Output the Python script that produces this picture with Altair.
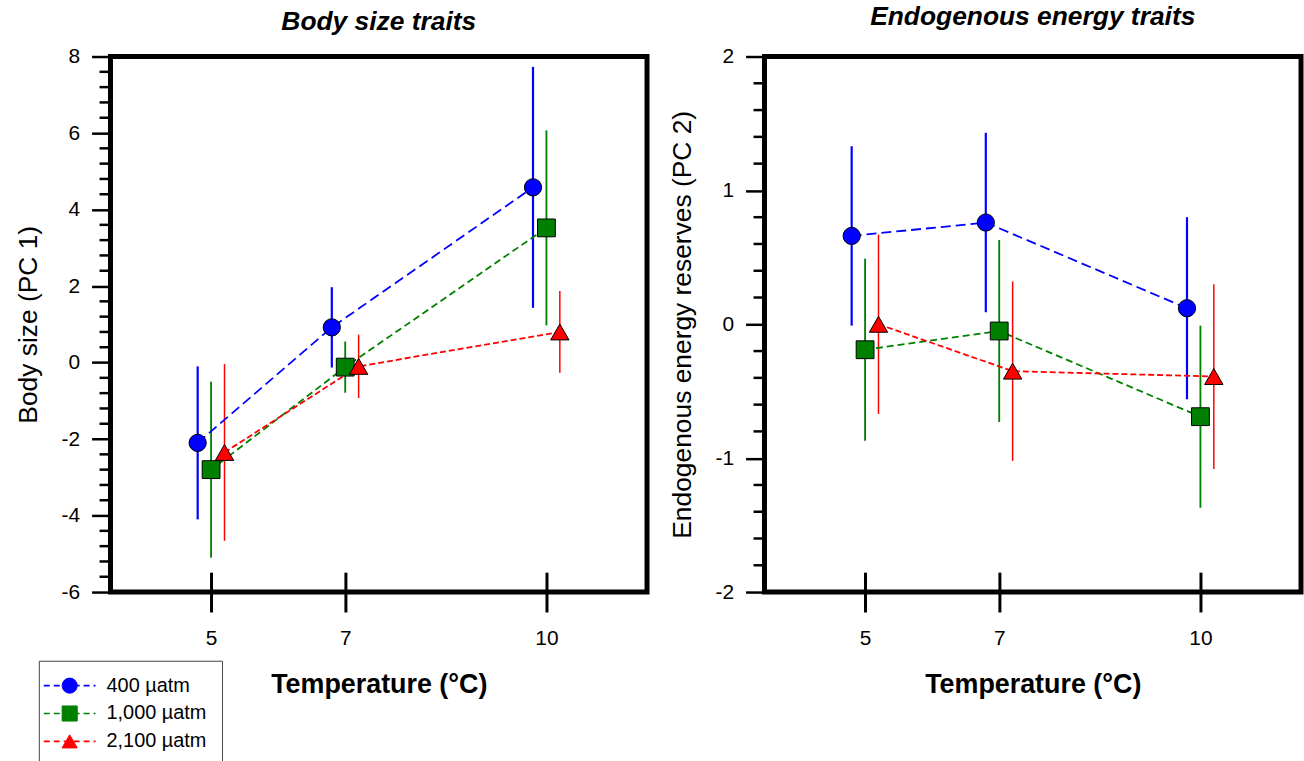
import altair as alt
import pandas as pd

# Treatment levels and plotting styles
temperatures = [5, 7, 10]
series = ["400 µatm", "1,000 µatm", "2,100 µatm"]
colors = ["#0000FF", "#008000", "#FF0000"]
shapes = ["circle", "square", "triangle-up"]
dodge = [-0.2, 0.0, 0.2]
dashes = [[10, 5], [7, 4], [6, 3]]
bar_widths = [2.2, 1.5, 2.0]
marker_sizes = [300, 340, 440]

# Body size (PC 1): means and error half-widths per treatment, at 5, 7, 10 °C
body_400 = [-2.10, 0.92, 4.58]
body_400_err = [2.00, 1.05, 3.15]
body_1000 = [-2.80, -0.12, 3.52]
body_1000_err = [2.30, 0.67, 2.55]
body_2100 = [-2.35, -0.10, 0.80]
body_2100_err = [2.31, 0.83, 1.07]

# Endogenous energy reserves (PC 2)
energy_400 = [0.66, 0.76, 0.12]
energy_400_err = [0.67, 0.67, 0.68]
energy_1000 = [-0.19, -0.05, -0.69]
energy_1000_err = [0.68, 0.68, 0.68]
energy_2100 = [0.00, -0.35, -0.39]
energy_2100_err = [0.67, 0.67, 0.69]

# Axis ticks
x_ticks = [5, 7, 10]
body_major = [-6, -4, -2, 0, 2, 4, 6, 8]
energy_major = [-2, -1, 0, 1, 2]

FONT = "Liberation Sans"


def minor_ticks(major, parts):
    out = []
    for a, b in zip(major[:-1], major[1:]):
        step = (b - a) / parts
        out += [round(a + step * k, 4) for k in range(1, parts)]
    return pd.DataFrame({"tick": out})


def frame(means, errs):
    rows = []
    for s, d, m, e in zip(series, dodge, means, errs):
        for t, v, err in zip(temperatures, m, e):
            rows.append({"series": s, "series_l": s, "temp": t, "x": t + d,
                         "mean": v, "lo": v - err, "hi": v + err})
    return pd.DataFrame(rows)


body_df = frame([body_400, body_1000, body_2100],
                [body_400_err, body_1000_err, body_2100_err])
energy_df = frame([energy_400, energy_1000, energy_2100],
                  [energy_400_err, energy_1000_err, energy_2100_err])

color_scale = alt.Scale(domain=series, range=colors)
shape_scale = alt.Scale(domain=series, range=shapes)


def panel(df, title, title_offset, y_title, y_domain, major, parts, show_legend):
    x_enc = alt.X(
        "x:Q", scale=alt.Scale(domain=[3.5, 11.5], nice=False, zero=False),
        axis=alt.Axis(values=x_ticks, offset=-20, tickSize=40, tickWidth=3,
                      tickColor="black", domain=False, grid=False,
                      labelFontSize=21, labelFont=FONT, labelColor="black",
                      labelPadding=16, title="Temperature (°C)",
                      titleFont=FONT, titleFontSize=27, titleFontWeight="bold",
                      titleColor="black", titlePadding=23),
    )
    y_scale = alt.Scale(domain=y_domain, nice=False, zero=False)
    y_axis = alt.Axis(values=major, orient="left", tickSize=19, tickWidth=2.5,
                      tickColor="black", domain=False, grid=False,
                      labelFontSize=21, labelFont=FONT, labelColor="black",
                      labelPadding=12, labelExpr="'' + datum.value",
                      title=y_title, titleFont=FONT, titleFontSize=26.5,
                      titleFontWeight="normal", titleColor="black",
                      titlePadding=19)

    def y_enc(field):
        return alt.Y(field, type="quantitative", scale=y_scale, axis=y_axis)

    if show_legend:
        # dashed line glyphs, drawn under the marker glyphs of the second legend
        line_legend = alt.Legend(
            title=None, orient="none", legendX=-68, legendY=622,
            symbolType="stroke", symbolSize=2704, symbolStrokeWidth=1.6,
            symbolDash=[6, 4], labelFontSize=20, labelFont=FONT,
            labelExpr="''", clipHeight=20, rowPadding=8, padding=0,
        )
        point_legend = alt.Legend(
            title=None, orient="none", legendX=-72, legendY=607,
            symbolSize=230, symbolStrokeColor="black", symbolStrokeWidth=1,
            symbolOpacity=1, symbolOffset=6, labelFontSize=20,
            labelFont=FONT, labelColor="black", labelOffset=27,
            clipHeight=20, rowPadding=8, padding=15,
            strokeColor="#444444", fillColor="white",
        )
    else:
        line_legend = None
        point_legend = None

    base = alt.Chart(df)
    # minor ticks on the y axis, placed through the y scale
    minor = alt.Chart(minor_ticks(major, parts)).mark_rule(
        color="black", strokeWidth=2.5
    ).encode(y=y_enc("tick"), x=alt.value(-11), x2=alt.value(0))

    bars = base.mark_rule().encode(
        x=x_enc,
        y=y_enc("lo"),
        y2="hi:Q",
        color=alt.Color("series:N", scale=color_scale, legend=point_legend),
        strokeWidth=alt.StrokeWidth("series:N", sort=series,
                                    scale=alt.Scale(range=bar_widths),
                                    legend=None),
    )
    lines = base.mark_line(strokeWidth=1.8).encode(
        x=x_enc,
        y=y_enc("mean"),
        stroke=alt.Stroke("series_l:N", sort=series,
                          scale=alt.Scale(range=colors), legend=line_legend),
        strokeDash=alt.StrokeDash("series:N", sort=series,
                                  scale=alt.Scale(range=dashes), legend=None),
        order="x:Q",
    )
    points = base.mark_point(filled=True, stroke="black", strokeWidth=1,
                             opacity=1).encode(
        x=x_enc,
        y=y_enc("mean"),
        color=alt.Color("series:N", scale=color_scale, legend=point_legend),
        shape=alt.Shape("series:N", scale=shape_scale, legend=point_legend),
        size=alt.Size("series:N", sort=series,
                      scale=alt.Scale(range=marker_sizes), legend=None),
    )
    return alt.layer(minor, bars, lines, points).properties(
        width=539, height=538,
        title=alt.Title(title, font=FONT, fontSize=26.5, fontStyle="italic",
                        fontWeight="bold", color="black", anchor="middle",
                        offset=title_offset),
    )


left = panel(body_df, "Body size traits", 10, "Body size (PC 1)",
             [-6, 8], body_major, 5, True)
right = panel(energy_df, "Endogenous energy traits", 15,
              "Endogenous energy reserves (PC 2)", [-2, 2], energy_major, 5,
              False)

chart = alt.hconcat(
    left, right, spacing=16,
    padding={"left": 12, "top": 0, "right": 0, "bottom": 5},
).resolve_legend(
    color="independent", shape="independent", stroke="independent"
).configure_view(stroke="black", strokeWidth=5)

chart.save("out.html", embed_options={"renderer": "svg", "actions": False})
